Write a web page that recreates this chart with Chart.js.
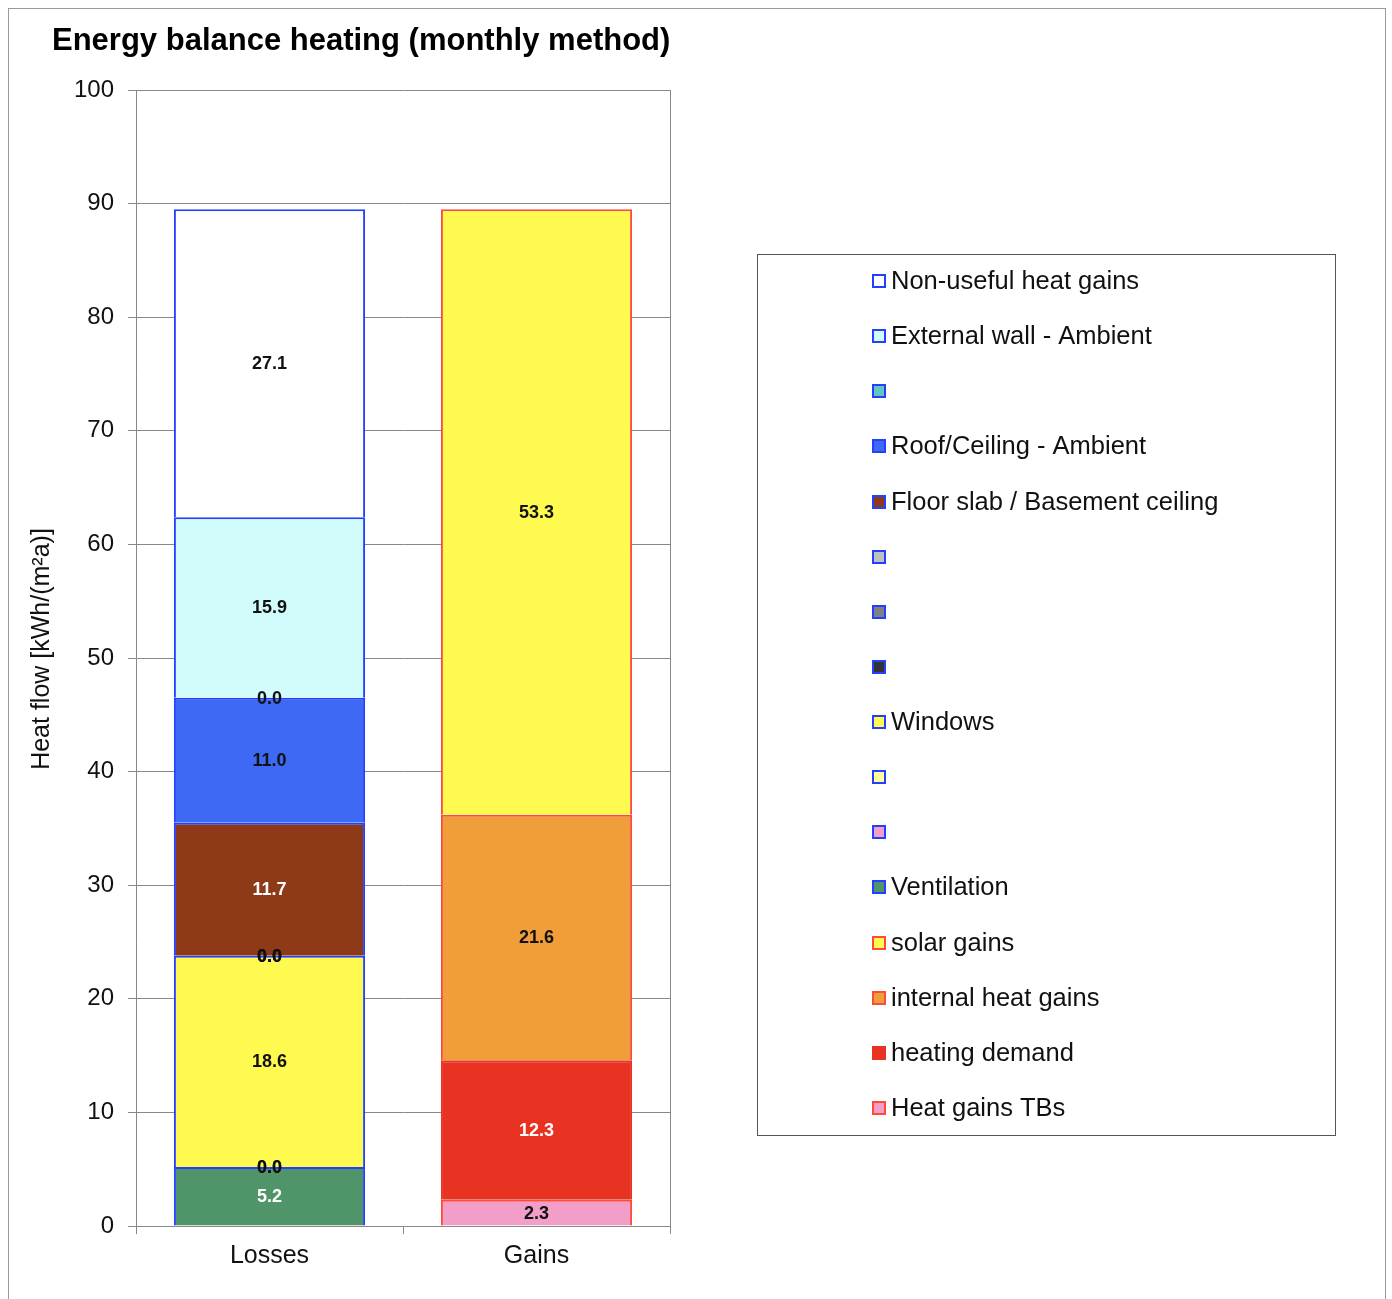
<!DOCTYPE html>
<html>
<head>
<meta charset="utf-8">
<script src="https://cdn.jsdelivr.net/npm/chart.js@4.4.0/dist/chart.umd.min.js"></script>
<style>
html, body { margin: 0; padding: 0; background: #fff; }
</style>
</head>
<body>
<canvas id="balance" width="1392" height="1299"></canvas>
<script>
const FONT = "'Liberation Sans', Arial, sans-serif"

const categories = ["Losses", "Gains"]
// series in legend order, top of the stack first
const seriesNames = ["Non-useful heat gains", "External wall - Ambient", "", "Roof/Ceiling - Ambient",
  "Floor slab / Basement ceiling", "", "", "", "Windows", "", "", "Ventilation",
  "solar gains", "internal heat gains", "heating demand", "Heat gains TBs"]
const lossesValues = [27.1, 15.9, 0.0, 11.0, 11.7, 0.0, 0.0, 0.0, 18.6, 0.0, 0.0, 5.2, null, null, null, null]
const gainsValues = [null, null, null, null, null, null, null, null, null, null, null, null, 53.3, 21.6, 12.3, 2.3]
const fillColors = ["#ffffff", "#d2fcfc", "#62c6c0", "#3d69f5", "#8e3a18", "#c0c0c0", "#808080", "#333333",
  "#fffa50", "#ffff9e", "#f29ec8", "#50956a", "#fffa50", "#f09e3a", "#e83222", "#f29ec8"]
const edgeColors = ["#2340ff", "#2340ff", "#2340ff", "#2340ff", "#2340ff", "#2340ff", "#2340ff", "#2340ff",
  "#2340ff", "#2340ff", "#2340ff", "#2340ff", "#ff4a3a", "#ff4a3a", "#e83222", "#ff4a3a"]
const labelColors = ["#111", "#111", "#111", "#111", "#fff", "#111", "#111", "#111",
  "#111", "#111", "#111", "#fff", "#111", "#111", "#fff", "#111"]

// stack from the bottom up
const datasets = seriesNames.map((name, i) => ({
  label: name,
  data: [lossesValues[i], gainsValues[i]],
  backgroundColor: fillColors[i],
  borderColor: edgeColors[i],
  borderWidth: 2,
  borderSkipped: 'start',
  inflateAmount: 0,
  labelColor: labelColors[i],
  categoryPercentage: 1,
  barPercentage: 0.716
})).reverse()

const valueLabels = {
  id: 'valueLabels',
  afterDatasetsDraw: (chart) => {
    const {ctx} = chart
    ctx.save()
    ctx.font = "bold 18px " + FONT
    ctx.textAlign = 'center'
    ctx.textBaseline = 'middle'
    chart.data.datasets.forEach((ds, i) => {
      chart.getDatasetMeta(i).data.forEach((bar, j) => {
        const v = ds.data[j]
        if (v === null || v === undefined) return
        ctx.fillStyle = ds.labelColor
        ctx.fillText(v.toFixed(1), bar.x, (bar.y + bar.base) / 2 + 1)
      })
    })
    ctx.restore()
  }
}

const frameAndLegend = {
  id: 'frameAndLegend',
  afterDraw: (chart) => {
    const {ctx, chartArea} = chart
    ctx.save()
    // outer frame
    ctx.strokeStyle = '#9a9a9a'
    ctx.lineWidth = 1
    ctx.strokeRect(8.5, 8.5, 1377, 1320)
    // plot title
    ctx.fillStyle = '#000'
    ctx.font = "bold 31px " + FONT
    ctx.textBaseline = 'middle'
    ctx.textAlign = 'left'
    ctx.fillText("Energy balance heating (monthly method)", 52, 41)
    // right side of plot box
    ctx.strokeStyle = '#888'
    ctx.beginPath()
    ctx.moveTo(Math.round(chartArea.right) + 0.5, chartArea.top)
    ctx.lineTo(Math.round(chartArea.right) + 0.5, chartArea.bottom)
    ctx.stroke()
    // legend box
    ctx.strokeStyle = '#555'
    ctx.strokeRect(757.5, 254.5, 578, 881)
    const items = chart.data.datasets.slice().reverse()
    ctx.font = "25.5px " + FONT
    items.forEach((ds, k) => {
      const cy = 281 + k * 55.13
      ctx.fillStyle = ds.borderColor
      ctx.fillRect(872, Math.round(cy) - 7, 14, 14)
      ctx.fillStyle = ds.backgroundColor
      ctx.fillRect(874, Math.round(cy) - 5, 10, 10)
      ctx.fillStyle = '#111'
      ctx.fillText(ds.label, 891, cy + 1)
    })
    // axis title drawn by hand so it sits where the original has it
    ctx.translate(42, 649)
    ctx.rotate(-Math.PI / 2)
    ctx.textAlign = 'center'
    ctx.font = "25px " + FONT
    ctx.fillText("Heat flow [kWh/(m²a)]", 0, 0)
    ctx.restore()
  }
}

new Chart(document.getElementById("balance"), {
  type: "bar",
  data: {
    labels: categories,
    datasets: datasets
  },
  options: {
    responsive: false,
    animation: false,
    layout: {
      padding: {top: 90, right: 722, bottom: 0, left: 0}
    },
    plugins: {
      legend: {display: false},
      tooltip: {enabled: false},
      title: {display: false}
    },
    scales: {
      x: {
        stacked: true,
        grid: {offset: true, drawOnChartArea: false, tickLength: 8, color: '#888'},
        border: {color: '#888'},
        ticks: {font: {size: 25, family: FONT}, color: '#111', padding: 7},
        afterFit: (s) => { s.height = 73 }
      },
      y: {
        stacked: true,
        min: 0,
        max: 100,
        ticks: {stepSize: 10, font: {size: 24, family: FONT}, color: '#111', padding: 14},
        grid: {color: '#888', tickLength: 8},
        border: {color: '#888'},
        afterFit: (s) => { s.width = 136 }
      }
    }
  },
  plugins: [valueLabels, frameAndLegend]
})
</script>
</body>
</html>
